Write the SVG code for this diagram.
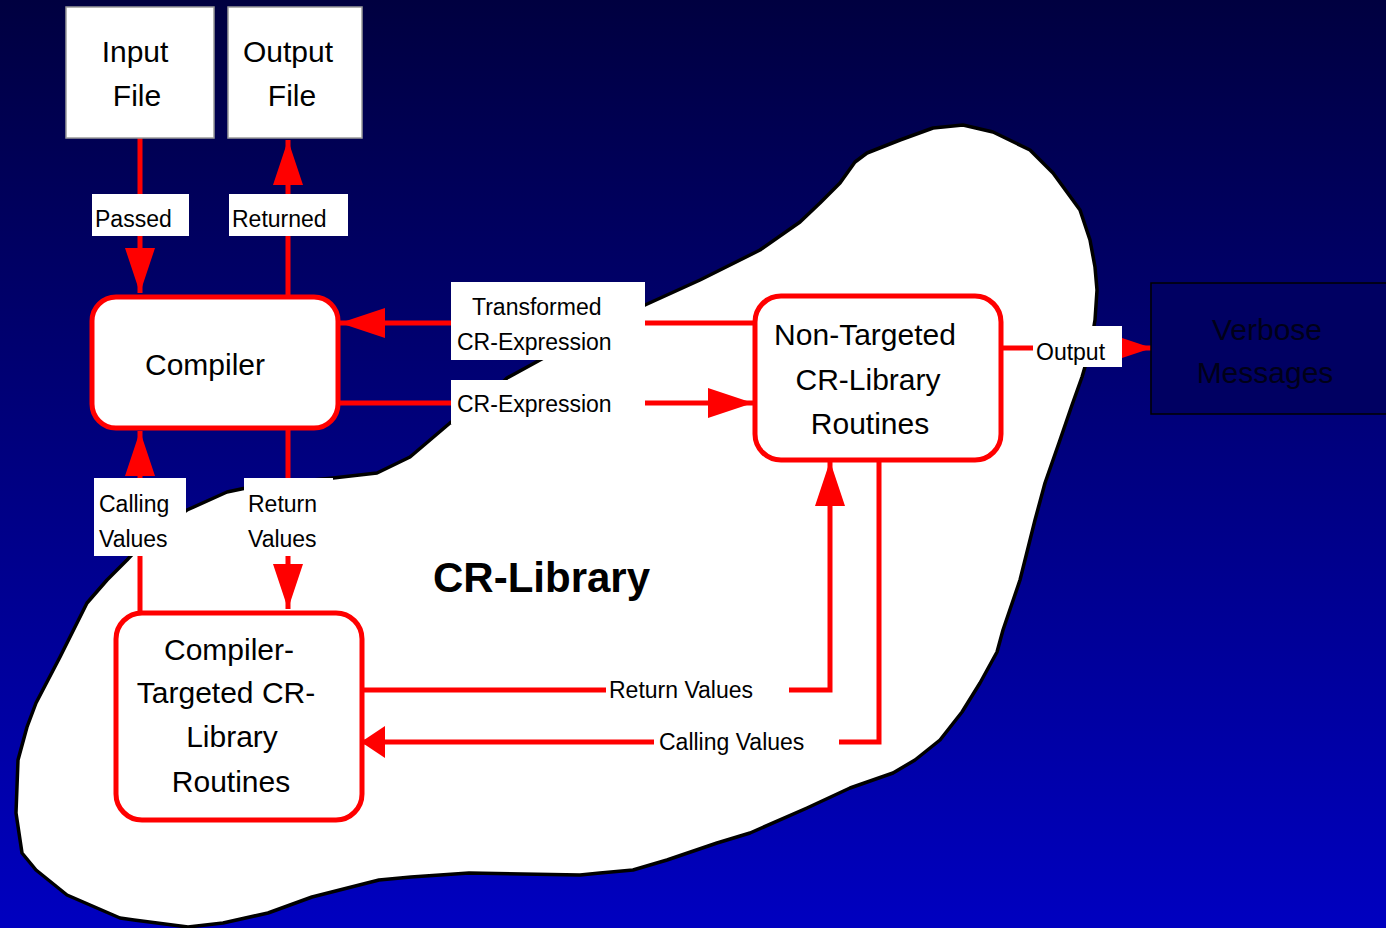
<svg xmlns="http://www.w3.org/2000/svg" width="1386" height="928" viewBox="0 0 1386 928">
  <defs>
    <linearGradient id="bg" x1="0" y1="0" x2="0" y2="1">
      <stop offset="0" stop-color="#000040"/>
      <stop offset="1" stop-color="#0000C0"/>
    </linearGradient>
    <marker id="arrow" markerUnits="userSpaceOnUse" viewBox="0 0 45 30" refX="45" refY="15" markerWidth="45" markerHeight="30" orient="auto">
      <path d="M0,0 L45,15 L0,30 Z" fill="#FF0000"/>
    </marker>
    <marker id="arrowShort" markerUnits="userSpaceOnUse" viewBox="0 0 24 32" refX="24" refY="16" markerWidth="24" markerHeight="32" orient="auto">
      <path d="M0,0 L24,16 L0,32 Z" fill="#FF0000"/>
    </marker>
    <style>
      text { font-family: "Liberation Sans", Arial, sans-serif; fill: #000000; }
      .big { font-size: 30px; }
      .lbl { font-size: 23px; }
      .file { fill: #FFFFFF; stroke: #9A9A9A; stroke-width: 1.5; }
      .node { fill: #FFFFFF; stroke: #FF0000; stroke-width: 5; }
      .wire { fill: none; stroke: #FF0000; stroke-width: 5; }
      .tag { fill: #FFFFFF; }
    </style>
  </defs>

  <!-- backdrop -->
  <rect x="0" y="0" width="1386" height="928" fill="url(#bg)"/>

  <!-- the CR-Library region -->
  <path id="cr-library-region" fill="#FFFFFF" stroke="#000000" stroke-width="3.5" stroke-linejoin="round"
        d="M963,125 L993,132 L1030,150 L1053,173 L1080,210 L1090,240 L1095,267 L1097,290 L1095,320 L1090,350
           L1082,377 L1072,405 L1060,440 L1045,483 L1035,520 L1020,580 L1003,630 L997,652 L980,683 L962,712
           L940,740 L915,760 L893,773 L850,788 L807,808 L750,833 L717,843 L667,860 L633,870 L600,873
           L580,875 L469,873 L411,877 L379,880 L312,897 L268,913 L223,923 L188,927 L134,920 L120,918
           L67,895 L36,870 L22,853 L16,813 L18,760 L27,727 L36,703 L60,657 L87,603 L107,580
           L127,560 L150,535 L187,510 L227,492 L260,485 L333,478 L377,473 L410,457 L450,423 L490,395
           L507,378 L540,360 L580,338 L645,305 L700,280 L760,250 L800,222 L820,203 L840,183 L855,162
           L867,153 L900,140 L933,128 Z"/>
  <text x="433" y="592" font-size="42" font-weight="bold">CR-Library</text>

  <!-- connectors -->
  <g id="connectors">
    <path class="wire" d="M140,138 V293" marker-end="url(#arrow)"/>
    <path class="wire" d="M288,297 V140" marker-end="url(#arrow)"/>
    <path class="wire" d="M755,323 H340" marker-end="url(#arrow)"/>
    <path class="wire" d="M340,403 H753" marker-end="url(#arrow)"/>
    <path class="wire" d="M1003,348 H1152" marker-end="url(#arrow)"/>
    <path class="wire" d="M140,612 V431" marker-end="url(#arrow)"/>
    <path class="wire" d="M288,428 V609" marker-end="url(#arrow)"/>
    <path class="wire" d="M362,690 H830 V461" marker-end="url(#arrow)"/>
    <path class="wire" d="M879,460 V742 H361" marker-end="url(#arrowShort)"/>

    <!-- connector labels -->
    <rect class="tag" x="92" y="194" width="97" height="42"/>
    <text class="lbl" x="95" y="227">Passed</text>
    <rect class="tag" x="229" y="194" width="119" height="42"/>
    <text class="lbl" x="232" y="227">Returned</text>
    <rect class="tag" x="451" y="282" width="194" height="78"/>
    <text class="lbl" x="472" y="315">Transformed</text>
    <text class="lbl" x="457" y="350">CR-Expression</text>
    <rect class="tag" x="451" y="380" width="194" height="44"/>
    <text class="lbl" x="457" y="412">CR-Expression</text>
    <rect class="tag" x="1033" y="326" width="89" height="41"/>
    <text class="lbl" x="1036" y="360">Output</text>
    <rect class="tag" x="94" y="478" width="92" height="78"/>
    <text class="lbl" x="99" y="512">Calling</text>
    <text class="lbl" x="99" y="547">Values</text>
    <rect class="tag" x="244" y="478" width="89" height="78"/>
    <text class="lbl" x="248" y="512">Return</text>
    <text class="lbl" x="248" y="547">Values</text>
    <rect class="tag" x="606" y="674" width="183" height="32"/>
    <text class="lbl" x="609" y="698">Return Values</text>
    <rect class="tag" x="654" y="726" width="185" height="32"/>
    <text class="lbl" x="659" y="750">Calling Values</text>
  </g>

  <!-- nodes -->
  <g id="input-file">
    <rect class="file" x="66" y="7" width="148" height="131"/>
    <text class="big" x="135" y="62" text-anchor="middle">Input</text>
    <text class="big" x="137" y="106" text-anchor="middle">File</text>
  </g>
  <g id="output-file">
    <rect class="file" x="228" y="7" width="134" height="131"/>
    <text class="big" x="288" y="62" text-anchor="middle">Output</text>
    <text class="big" x="292" y="106" text-anchor="middle">File</text>
  </g>
  <g id="compiler">
    <rect class="node" x="92" y="297" width="246" height="131" rx="24" ry="24"/>
    <text class="big" x="205" y="375" text-anchor="middle">Compiler</text>
  </g>
  <g id="non-targeted">
    <rect class="node" x="755" y="296" width="246" height="164" rx="26" ry="26"/>
    <text class="big" x="865" y="345" text-anchor="middle">Non-Targeted</text>
    <text class="big" x="868" y="390" text-anchor="middle">CR-Library</text>
    <text class="big" x="870" y="434" text-anchor="middle">Routines</text>
  </g>
  <g id="compiler-targeted">
    <rect class="node" x="116" y="613" width="246" height="207" rx="26" ry="26"/>
    <text class="big" x="229" y="660" text-anchor="middle">Compiler-</text>
    <text class="big" x="226" y="703" text-anchor="middle">Targeted CR-</text>
    <text class="big" x="232" y="747" text-anchor="middle">Library</text>
    <text class="big" x="231" y="792" text-anchor="middle">Routines</text>
  </g>
  <g id="verbose-messages">
    <rect x="1151" y="283" width="240" height="131" fill="#000062" stroke="#000000" stroke-width="1.5"/>
    <text class="big" x="1267" y="340" text-anchor="middle" style="fill:#000018">Verbose</text>
    <text class="big" x="1265" y="383" text-anchor="middle" style="fill:#000018">Messages</text>
  </g>
</svg>
